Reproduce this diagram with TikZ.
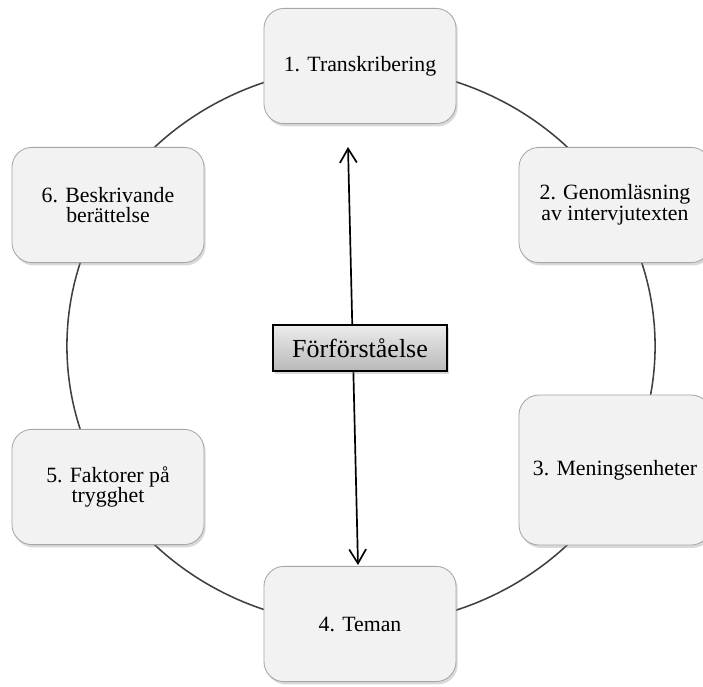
\documentclass[tikz,border=0pt]{standalone}
\usepackage{fontspec}
\setmainfont{Liberation Serif}
\usetikzlibrary{shadows,arrows.meta}
\definecolor{boxfill}{HTML}{F2F2F2}
\definecolor{boxline}{HTML}{A6A6A6}
\definecolor{ringline}{HTML}{404040}

\begin{document}
\begin{tikzpicture}[x=0.025cm, y=-0.025cm,
    stage/.style={rectangle, rounded corners=0.5cm, draw=boxline, line width=0.6pt,
        fill=boxfill, minimum width=4.8cm, minimum height=2.88cm, align=center,
        font=\fontsize{15.5}{14.8}\selectfont,
        drop shadow={shadow xshift=1.2pt, shadow yshift=-2pt, opacity=0.3}},
    core/.style={rectangle, draw=black, line width=1.4pt, top color=gray!15,
        bottom color=gray!55, minimum width=4.35cm, minimum height=1.15cm,
        font=\fontsize{18.5}{20}\selectfont,
        drop shadow={shadow xshift=1.5pt, shadow yshift=-2pt, opacity=0.3}}]
    \useasboundingbox (0,0) rectangle (703,686);
    % ring behind the stages
    \coordinate (mid) at (361,346);
    \draw[ringline, line width=1.1pt] (mid) ellipse [x radius=7.35cm, y radius=6.975cm];
    % double arrow behind the centre box
    \coordinate (tipup) at (348,147);
    \coordinate (tipdown) at (358,565);
    \draw[{Straight Barb[length=10pt,width=12pt]}-{Straight Barb[length=10pt,width=12pt]}, line width=1.2pt] (tipup) -- (tipdown);

    \draw(360,66) node [stage](trans){1. Transkribering};
    \draw(615,205) node [stage](genom){2. Genomläsning\\av intervjutexten};
    \draw(615,470) node [stage, minimum height=3.75cm](mening){3. Meningsenheter};
    \draw(360,624) node [stage](teman){4. Teman};
    \draw(108,487) node [stage](faktor){5. Faktorer på\\trygghet};
    \draw(108,205) node [stage](beskriv){6. Beskrivande\\berättelse};

    \draw(360,348) node [core](forf){Förförståelse};
\end{tikzpicture}
\end{document}
